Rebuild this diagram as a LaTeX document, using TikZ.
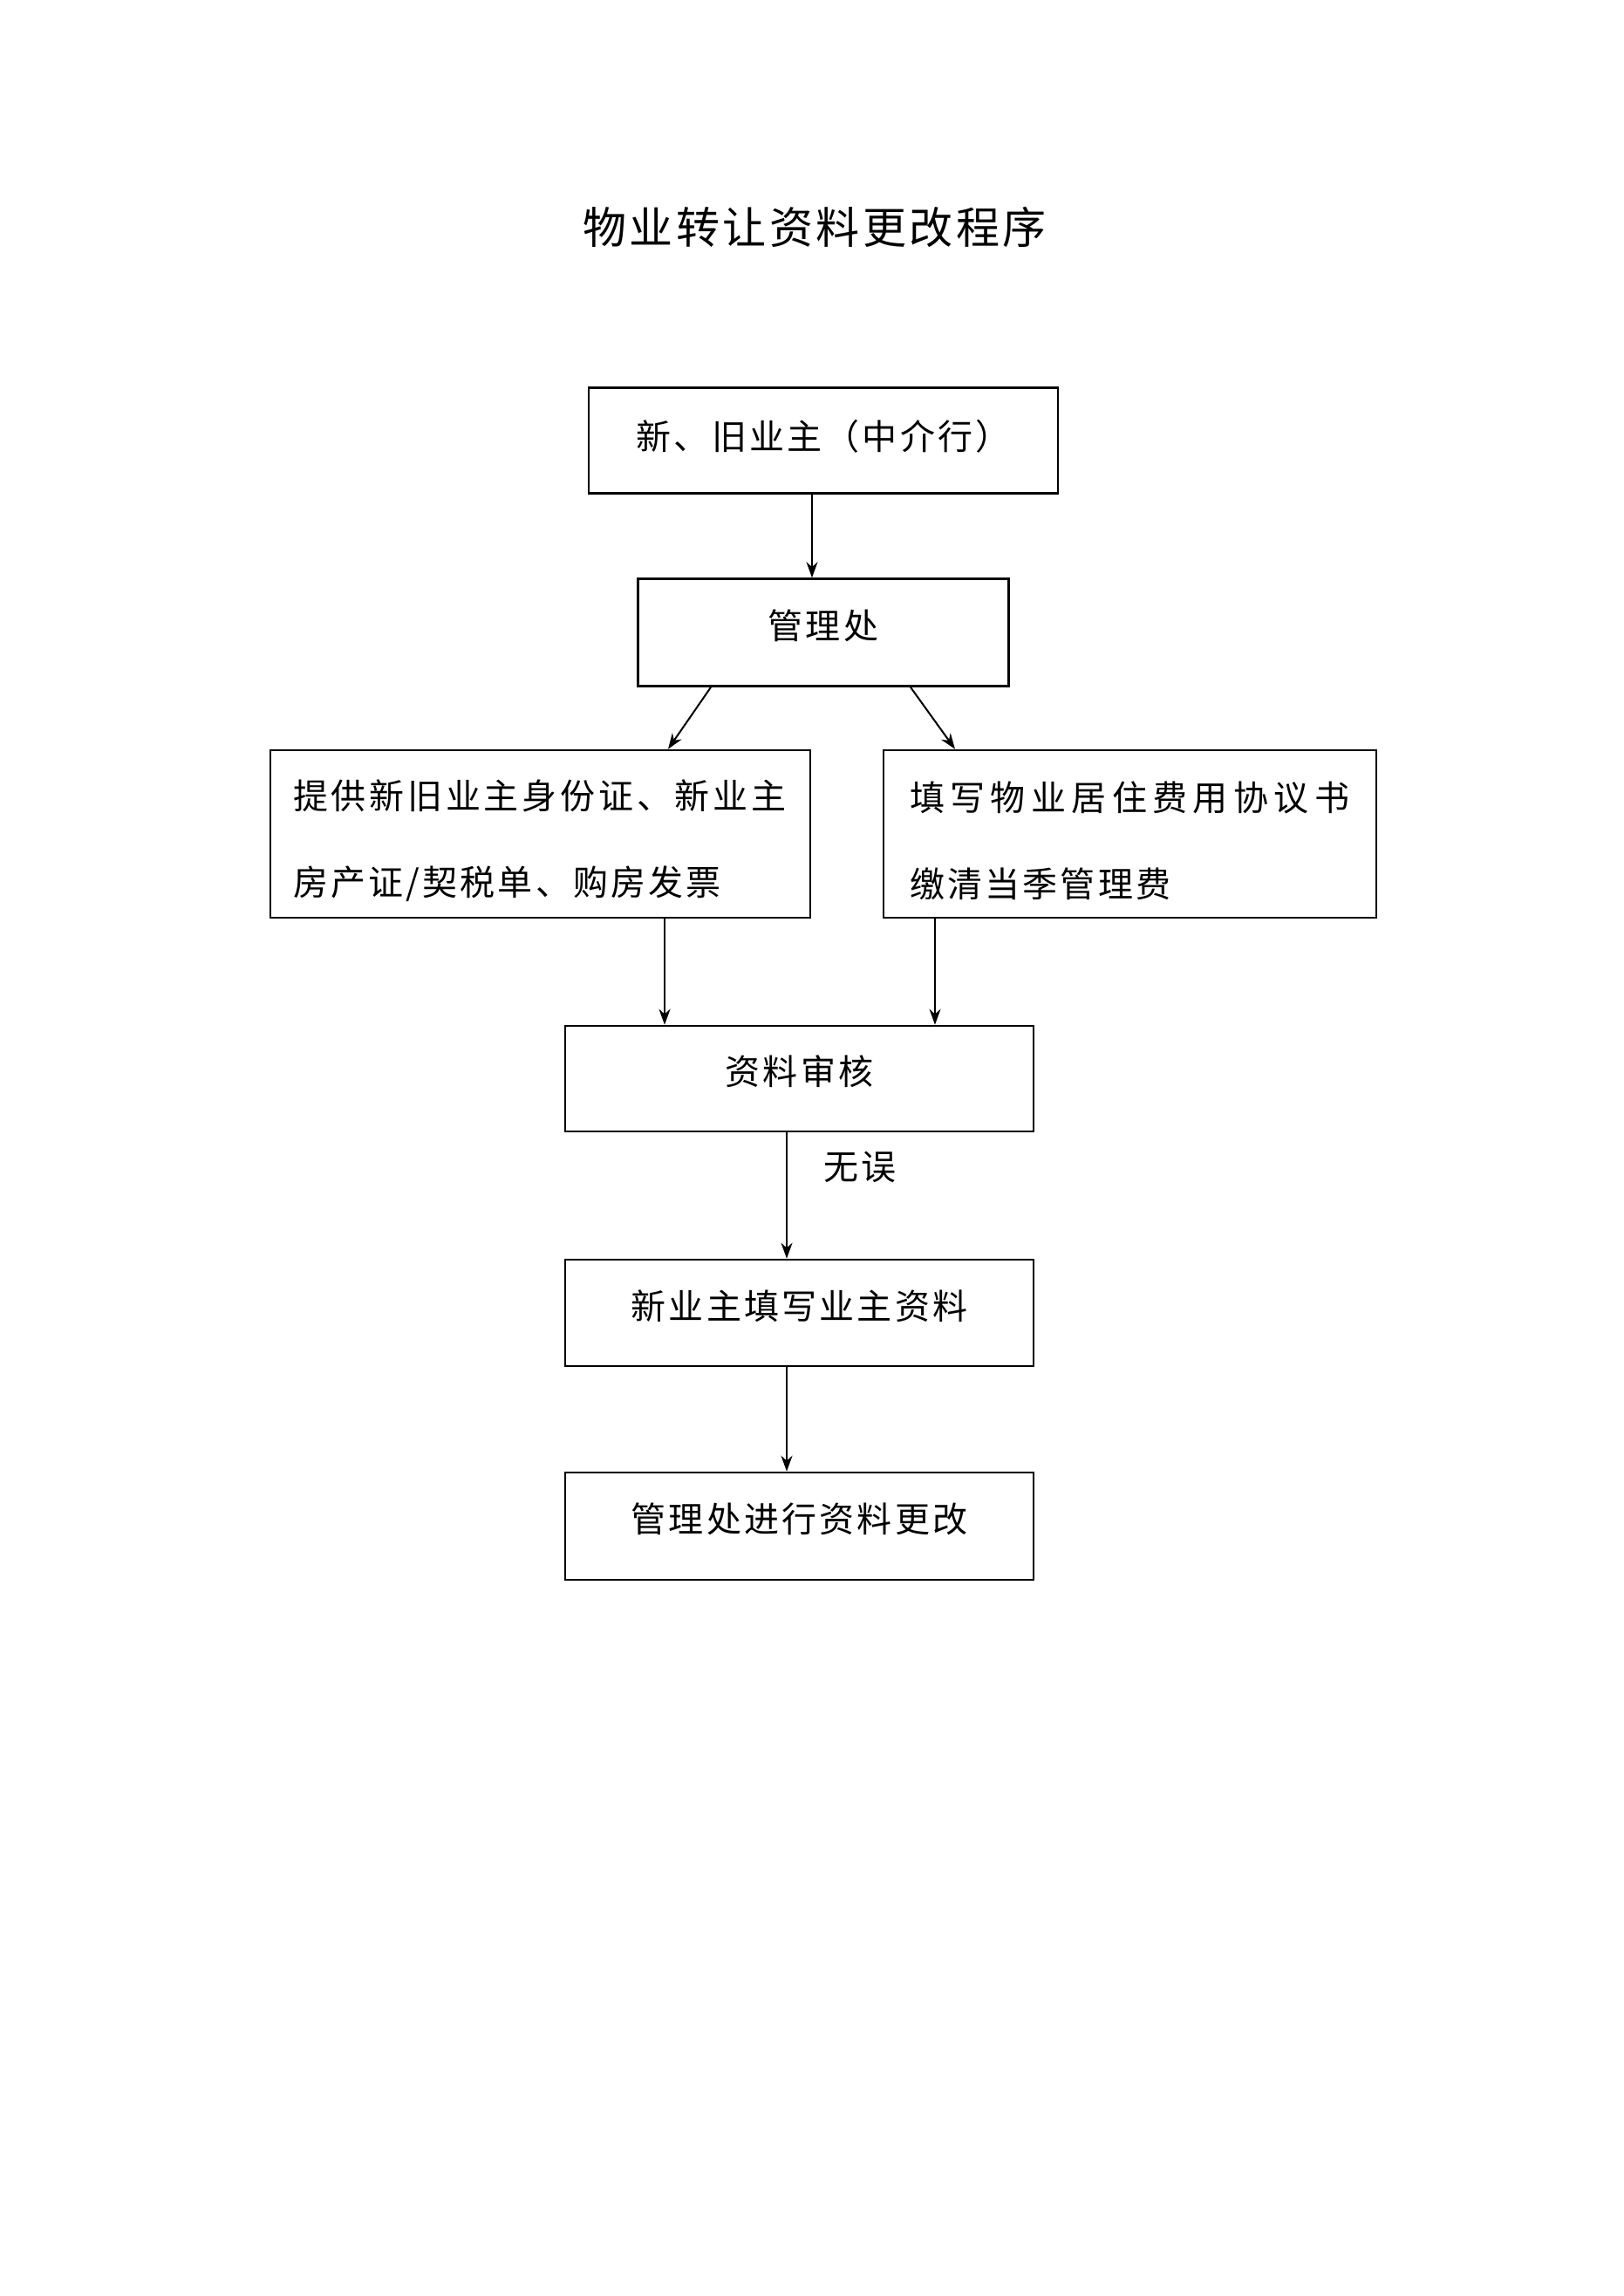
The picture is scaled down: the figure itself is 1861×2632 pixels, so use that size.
\documentclass[tikz,border=0pt]{standalone}
\usepackage{fontspec}
\newfontfamily\cjk{Noto Sans CJK SC}
\newfontfamily\cjka[LetterSpace=8]{Noto Sans CJK SC}
\newfontfamily\cjkb[LetterSpace=9.5]{Noto Sans CJK SC}
\newfontfamily\cjkc[LetterSpace=16]{Noto Sans CJK SC}
\newfontfamily\cjkt[LetterSpace=7]{Noto Sans CJK SC}
\usetikzlibrary{arrows.meta}
\begin{document}
\begin{tikzpicture}[x=1pt,y=-1pt,
  box/.style={draw=black,line width=2.6pt,inner sep=0pt,align=center,
    font=\cjka\fontsize{40}{99}\selectfont},
  one/.style={text height=35pt,text depth=21pt},
  arr/.style={draw=black,line width=2pt,-{Stealth[length=18pt,width=13pt]}}]
\useasboundingbox[fill=white] (0,0) rectangle (1861,2632);
\node[font=\cjkt\fontsize{50}{60}\selectfont] (title) at (934,260) {物业转让资料更改程序};
\node[box,text height=35pt,text depth=15pt,minimum width=538pt,minimum height=121pt] (b1) at (944,505) {新、旧业主（中介行）};
\node[box,one,minimum width=425pt,minimum height=123pt] (b2) at (944,725) {管理处};
\node[box,minimum height=192pt,inner xsep=26pt,text width=567pt,align=left] (bl) at (619.5,956)
  {\rule{0pt}{49pt}{\cjkb 提供新旧业主身份证、新业主}\\房产证/契税单、购房发票};
\node[box,minimum height=192pt,inner xsep=30pt,text width=505pt,align=left] (br) at (1295.5,956)
  {\rule{0pt}{49pt}{\cjkc 填写物业居住费用协议书}\\缴清当季管理费};
\node[box,one,minimum width=537pt,minimum height=121pt] (b4) at (916.5,1236.5) {资料审核};
\node[box,one,minimum width=537pt,minimum height=122pt] (b5) at (916.5,1505) {新业主填写业主资料};
\node[box,one,minimum width=537pt,minimum height=123pt] (b6) at (916.5,1749.5) {管理处进行资料更改};
\draw[arr] ([xshift=-13pt]b1.south) -- ([xshift=-13pt]b1.south |- b2.north);
\draw[arr] ([xshift=-129pt]b2.south) -- ([xshift=146.5pt]bl.north);
\draw[arr] ([xshift=100pt]b2.south) -- ([xshift=-200.5pt]br.north);
\draw[arr] ([xshift=142.5pt]bl.south) -- ([xshift=142.5pt]bl.south |- b4.north);
\draw[arr] ([xshift=-223.5pt]br.south) -- ([xshift=-223.5pt]br.south |- b4.north);
\draw[arr] ([xshift=-14.5pt]b4.south) -- ([xshift=-14.5pt]b5.north);
\draw[arr] ([xshift=-14.5pt]b5.south) -- ([xshift=-14.5pt]b6.north);
\node[font=\cjka\fontsize{40}{48}\selectfont] (lbl) at (986,1338) {无误};
\end{tikzpicture}
\end{document}
